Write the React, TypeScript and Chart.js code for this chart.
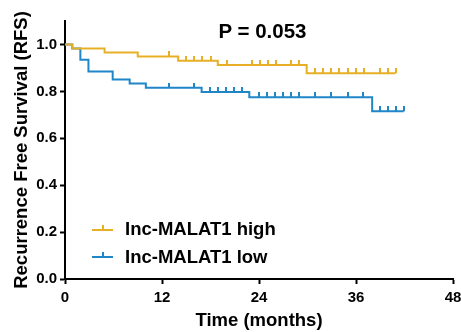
import React, { useEffect, useRef } from "react";
import { Chart, registerables } from "chart.js";

Chart.register(...registerables);

// ---- data ----
const xTicks = [0, 12, 24, 36, 48];
const yTicks = [0, 0.2, 0.4, 0.6, 0.8, 1.0];

const highEventTimes = [0.9, 4.9, 9.0, 14.0, 18.9, 29.9];
const highEventSurv = [0.983, 0.966, 0.949, 0.930, 0.912, 0.877];
const highCensorTimes = [12.9, 15, 16, 17, 18, 20, 23.1, 24.1, 25.1, 26.1, 28, 29, 30.9, 31.9, 32.9, 33.9, 35, 36, 37, 39, 40, 40.9];
const highEnd = 40.9;

const lowEventTimes = [0.9, 1.9, 2.9, 5.9, 8.0, 10.0, 16.9, 22.8, 38.0];
const lowEventSurv = [0.983, 0.935, 0.885, 0.851, 0.833, 0.815, 0.797, 0.775, 0.715];
const lowCensorTimes = [12.9, 15.9, 17.9, 18.9, 19.9, 20.9, 21.9, 24, 25, 26, 27, 28, 29, 30.9, 32.9, 35, 36.9, 39, 40, 40.9, 41.9];
const lowEnd = 41.9;

const seriesNames = ["Inc-MALAT1 high", "Inc-MALAT1 low"];
const pValueText = "P = 0.053";
const xTitle = "Time (months)";
const yTitle = "Recurrence Free Survival (RFS)";

const YELLOW = "rgb(231,175,38)";
const BLUE = "rgb(31,134,200)";
const FONT = "'Liberation Sans', Arial, Helvetica, sans-serif";

function stepLine(times: number[], surv: number[], end: number) {
  const pts = [{ x: 0, y: 1 }];
  times.forEach((t, i) => pts.push({ x: t, y: surv[i] }));
  pts.push({ x: end, y: surv[surv.length - 1] });
  return pts;
}

function survAt(times: number[], surv: number[], t: number) {
  let s = 1;
  times.forEach((et, i) => {
    if (et <= t) s = surv[i];
  });
  return s;
}

function censorPoints(times: number[], surv: number[], cens: number[]) {
  return cens.map((t) => ({ x: t, y: survAt(times, surv, t) }));
}

function tickImage(color: string) {
  const c = document.createElement("canvas");
  c.width = 2;
  c.height = 10;
  const ctx = c.getContext("2d")!;
  ctx.fillStyle = color;
  ctx.fillRect(0, 0, 2, 5);
  return c;
}

export default function App() {
  const ref = useRef<HTMLCanvasElement>(null);

  useEffect(() => {
    document.body.style.margin = "0";
    const canvas = ref.current!;
    const chart = new Chart(canvas, {
      type: "line",
      data: {
        datasets: [
          {
            label: seriesNames[0],
            data: stepLine(highEventTimes, highEventSurv, highEnd),
            borderColor: YELLOW,
            borderWidth: 2,
            stepped: true,
            pointRadius: 0,
            fill: false,
          },
          {
            label: seriesNames[0] + " censored",
            data: censorPoints(highEventTimes, highEventSurv, highCensorTimes),
            showLine: false,
            pointStyle: tickImage(YELLOW) as any,
            pointRadius: 5,
          },
          {
            label: seriesNames[1],
            data: stepLine(lowEventTimes, lowEventSurv, lowEnd),
            borderColor: BLUE,
            borderWidth: 2,
            stepped: true,
            pointRadius: 0,
            fill: false,
          },
          {
            label: seriesNames[1] + " censored",
            data: censorPoints(lowEventTimes, lowEventSurv, lowCensorTimes),
            showLine: false,
            pointStyle: tickImage(BLUE) as any,
            pointRadius: 5,
          },
        ],
      },
      options: {
        animation: false,
        responsive: false,
        events: [],
        layout: { padding: { top: 21, right: 8, left: 0, bottom: 0 } },
        plugins: {
          legend: { display: false },
          tooltip: { enabled: false },
        },
        scales: {
          x: {
            type: "linear",
            min: 0,
            max: 48,
            afterBuildTicks: (s: any) => {
              s.ticks = xTicks.map((v) => ({ value: v }));
            },
            afterFit: (s: any) => {
              s.height = 53;
              s.paddingLeft = 0;
              s.paddingRight = 0;
            },
            ticks: {
              color: "#000",
              font: { family: FONT, size: 15, weight: "bold" },
              padding: 5,
              maxRotation: 0,
            },
            grid: {
              drawOnChartArea: false,
              drawTicks: true,
              tickLength: 5,
              tickWidth: 2,
              tickColor: "#000",
            },
            border: { display: true, color: "#000", width: 2 },
            title: {
              display: true,
              text: xTitle,
              color: "#000",
              font: { family: FONT, size: 18.5, weight: "bold" },
              padding: { top: 0, bottom: 0 },
            },
          },
          y: {
            type: "linear",
            min: 0,
            max: 1.1,
            afterBuildTicks: (s: any) => {
              s.ticks = yTicks.map((v) => ({ value: v }));
            },
            afterFit: (s: any) => {
              s.width = 65;
              s.paddingTop = 0;
              s.paddingBottom = 0;
            },
            ticks: {
              color: "#000",
              font: { family: FONT, size: 15, weight: "bold" },
              padding: 3,
              callback: (v: any) => Number(v).toFixed(1),
            },
            grid: {
              drawOnChartArea: false,
              drawTicks: true,
              tickLength: 5,
              tickWidth: 2,
              tickColor: "#000",
            },
            border: { display: true, color: "#000", width: 2 },
            title: {
              display: true,
              text: yTitle,
              color: "#000",
              font: { family: FONT, size: 18.5, weight: "bold" },
              padding: { top: 11, bottom: 0 },
            },
          },
        },
      },
    });
    return () => chart.destroy();
  }, []);

  const legendRow = (name: string, color: string, cy: number) => (
    <div key={name}>
      <div
        style={{
          position: "absolute",
          left: 92,
          top: cy - 1,
          width: 21,
          height: 2,
          background: color,
        }}
      />
      <div
        style={{
          position: "absolute",
          left: 101.5,
          top: cy - 5,
          width: 2,
          height: 5,
          background: color,
        }}
      />
      <div
        style={{
          position: "absolute",
          left: 125,
          top: cy - 0.49 * 18.5,
          fontFamily: FONT,
          fontWeight: "bold",
          fontSize: 18.5,
          lineHeight: "18.5px",
          color: "#000",
          whiteSpace: "nowrap",
        }}
      >
        {name}
      </div>
    </div>
  );

  return (
    <div style={{ position: "relative", width: 461, height: 332 }}>
      <canvas ref={ref} width={461} height={332} style={{ display: "block" }} />
      <div
        style={{
          position: "absolute",
          left: 0,
          width: 525,
          textAlign: "center",
          top: 31 - 0.49 * 20.5,
          fontFamily: FONT,
          fontWeight: "bold",
          fontSize: 20.5,
          lineHeight: "20.5px",
          color: "#000",
          whiteSpace: "nowrap",
        }}
      >
        {pValueText}
      </div>
      {legendRow(seriesNames[0], YELLOW, 229.5)}
      {legendRow(seriesNames[1], BLUE, 257)}
    </div>
  );
}
